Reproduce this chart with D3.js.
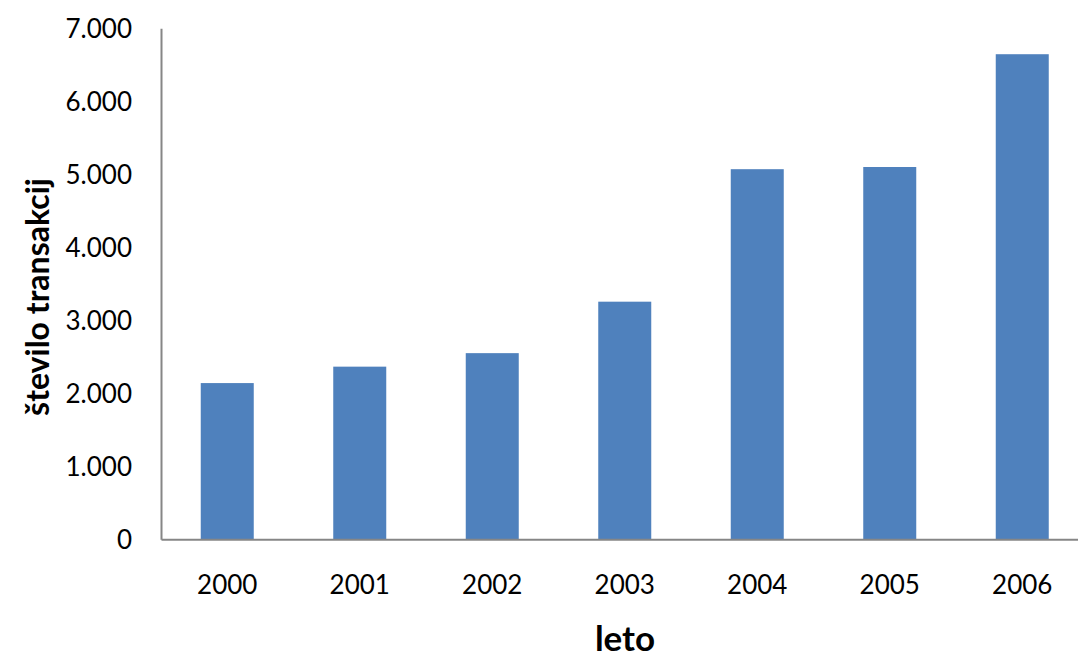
<!DOCTYPE html>
<html>
<head>
<meta charset="utf-8">
<script src="https://cdn.jsdelivr.net/npm/d3@7"></script>
<style>
  body { margin: 0; background: #fff; }
  text { font-family: Lato, "Open Sans", sans-serif; fill: #000; }
</style>
</head>
<body>
<script>
const years = ["2000", "2001", "2002", "2003", "2004", "2005", "2006"];
const transactions = [2140, 2365, 2550, 3255, 5070, 5100, 6645];
const yTicks = [0, 1000, 2000, 3000, 4000, 5000, 6000, 7000];

const width = 1078;
const height = 657;

const svg = d3
  .select("body")
  .append("svg")
  .attr("width", width)
  .attr("height", height);

// slovenian number format: 7.000
const fmt = d3.formatLocale({ decimal: ",", thousands: ".", grouping: [3], currency: ["", ""] }).format(",d");

const x = d3
  .scaleBand()
  .domain(years)
  .range([161, 1088.5])
  .paddingInner(0.6)
  .paddingOuter(0.3);

const y = d3.scaleLinear().domain([0, 7000]).range([539.3, 28.3]);

// bars
svg
  .selectAll("rect.bar")
  .data(transactions)
  .enter()
  .append("rect")
  .attr("class", "bar")
  .attr("x", (d, i) => x(years[i]))
  .attr("y", (d) => y(d))
  .attr("width", x.bandwidth())
  .attr("height", (d) => y(0) - y(d))
  .attr("fill", "#4F81BD");

// y axis
const yAxis = svg
  .append("g")
  .attr("transform", "translate(161,0)")
  .call(d3.axisLeft(y).tickValues(yTicks).tickFormat(fmt).tickSize(0).tickPadding(29));
yAxis.select(".domain").attr("stroke", "#868686").attr("stroke-width", 2);
yAxis.selectAll("text").style("font-size", "26px").attr("dy", "0.35em");

// x axis
const xAxis = svg
  .append("g")
  .attr("transform", "translate(0,539.3)")
  .call(d3.axisBottom(x).tickSize(0).tickPadding(36));
xAxis.select(".domain").attr("stroke", "#868686").attr("stroke-width", 2);
xAxis.selectAll("text").style("font-size", "26px");

// axis titles
svg
  .append("text")
  .text("leto")
  .attr("x", 625)
  .attr("y", 651)
  .attr("text-anchor", "middle")
  .style("font-size", "35px")
  .style("font-weight", "bold");

svg
  .append("text")
  .text("število transakcij")
  .attr("transform", "translate(49,297) rotate(-90)")
  .attr("text-anchor", "middle")
  .style("font-size", "32px")
  .style("font-weight", "bold");
</script>
</body>
</html>
